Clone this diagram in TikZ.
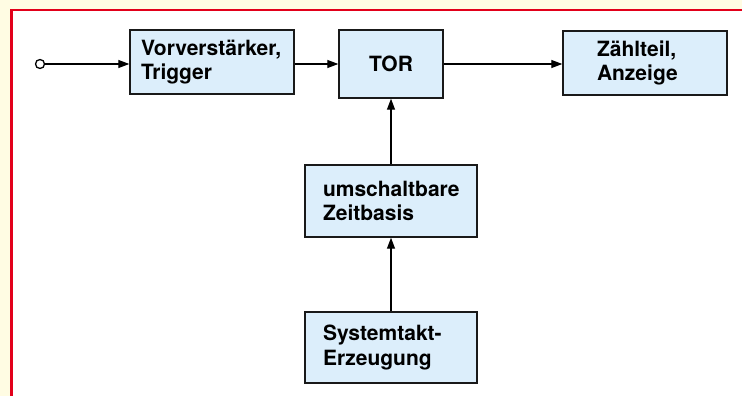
\documentclass[tikz,border=0pt]{standalone}
\usepackage{fontspec}
\setmainfont{TeX Gyre Heros}
\usetikzlibrary{arrows.meta}
\definecolor{cream}{HTML}{FFFCE3}
\definecolor{framered}{HTML}{E2001A}
\definecolor{boxblue}{HTML}{DCEEFB}
\hyphenpenalty=10000
\exhyphenpenalty=10000
\begin{document}
\begin{tikzpicture}[x=1pt,y=-1pt,
    block/.style={draw=black!90, line width=1.4pt, fill=boxblue, inner ysep=0pt,
        font=\bfseries\fontsize{21}{24.5}\selectfont},
    sig/.style={draw, line width=1.3pt, -{Triangle[length=11pt,width=8pt]}}]
        \useasboundingbox (0,0) rectangle (742,396);
        \clip (0,0) rectangle (742,396);
        \fill[cream] (0,0) rectangle (742,396);
        \path[draw=framered, fill=white, line width=2.7pt] (11.3,10) rectangle (760,410);

        \node[draw, circle, line width=1.3pt, fill=white, minimum size=9pt, inner sep=0pt] (inp) at (40,64) {};
        \node[block, text width=142pt, inner xsep=11pt, minimum height=64pt, align=left] (vor) at (212,62) {Vorverstärker,\\Trigger};
        \node[block, minimum width=104pt, minimum height=68pt, align=center] (tor) at (391,64) {TOR};
        \node[block, text width=96pt, inner xsep=34pt, minimum height=64pt, align=left] (zaehl) at (645,63) {Zählteil,\\Anzeige};
        \node[block, text width=136pt, inner xsep=18pt, minimum height=72pt, align=left] (zeit) at (391,201) {umschaltbare\\Zeitbasis};
        \node[block, text width=136pt, inner xsep=18pt, minimum height=71pt, align=left] (sys) at (391,347.5) {Systemtakt-\\Erzeugung};

        \path[sig] (inp) -- (inp -| vor.west);
        \path[sig] (vor.east |- tor) -- (tor.west);
        \path[sig] (tor.east) -- (tor.east -| zaehl.west);
        \path[sig] (zeit) -- (tor);
        \path[sig] (sys) -- (zeit);
    \end{tikzpicture}
\end{document}
